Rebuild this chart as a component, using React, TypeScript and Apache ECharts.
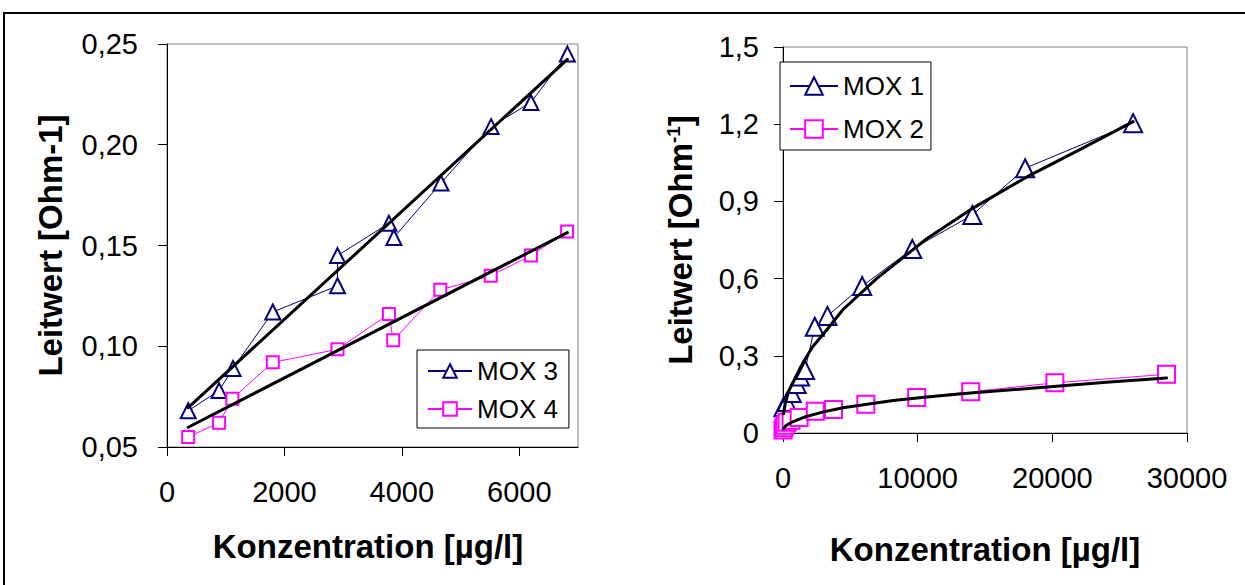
import React, { useEffect, useRef } from "react";
import * as echarts from "echarts";

// Left chart (MOX 3 / MOX 4)
const mox3X = [361, 887, 1124, 1802, 2904, 2904, 3780, 3864, 4666, 5520, 6198, 6819];
const mox3Y = [0.068, 0.078, 0.089, 0.117, 0.13, 0.145, 0.161, 0.154, 0.181, 0.209, 0.221, 0.245];
const mox4X = [361, 887, 1113, 1802, 2904, 3780, 3853, 4655, 5514, 6198, 6814];
const mox4Y = [0.055, 0.062, 0.074, 0.092, 0.0985, 0.116, 0.103, 0.128, 0.135, 0.145, 0.157];
const fitLeftX = [361, 6819];
const fit3Y = [0.0695, 0.2424];
const fit4Y = [0.0598, 0.1564];
const leftXTicks = [0, 2000, 4000, 6000];

// Right chart (MOX 1 / MOX 2)
const mox1X = [30, 280, 650, 1020, 1270, 1640, 2360, 3300, 5880, 9600, 14060, 17980, 26000];
const mox1Y = [0.1, 0.12, 0.155, 0.19, 0.22, 0.245, 0.413, 0.455, 0.571, 0.715, 0.847, 1.029, 1.204];
const mox2X = [0, 60, 150, 300, 600, 1200, 2400, 3750, 6150, 9930, 13940, 20190, 28480];
const mox2Y = [0.012, 0.02, 0.03, 0.042, 0.05, 0.06, 0.085, 0.091, 0.112, 0.138, 0.16, 0.195, 0.228];
const fit1X = [40, 150, 400, 900, 1500, 2200, 3000, 4460, 6950, 10670, 14140, 18110, 22000, 26000];
const fit1Y = [0.075, 0.11, 0.16, 0.212, 0.275, 0.335, 0.385, 0.48, 0.6, 0.755, 0.875, 0.995, 1.1, 1.21];
const fit2X = [30, 200, 650, 1600, 3000, 4460, 6500, 8190, 10670, 13900, 17000, 20070, 24000, 28480];
const fit2Y = [0.016, 0.028, 0.042, 0.062, 0.082, 0.098, 0.114, 0.126, 0.14, 0.155, 0.168, 0.181, 0.197, 0.214];

const NAVY = "#000080";
const MAGENTA = "#FF00FF";
const FONT = "'Liberation Sans', Arial, sans-serif";

const pairs = (xs: number[], ys: number[]) => xs.map((x, i) => [x, ys[i]]);

export default function App() {
  const ref = useRef<HTMLDivElement>(null);
  useEffect(() => {
    if (!ref.current) return;
    const chart = echarts.init(ref.current, null, { renderer: "svg" });
    const axisCommon = {
      axisLine: { show: true, onZero: false, lineStyle: { color: "#000", width: 1 } },
      axisTick: { show: true, inside: false, length: 9, lineStyle: { color: "#000", width: 1 } },
      splitLine: { show: false },
    };
    const labelStyle = { color: "#000", fontSize: 29, fontFamily: FONT };
    const nameStyle = { color: "#000", fontSize: 33, fontWeight: "bold" as const, fontFamily: FONT };
    const plain = (v: number) => String(v);

    const dataLine = (name: string, xs: number[], ys: number[], color: string, symbol: string, size: number, idx: number) => ({
      name,
      type: "line",
      xAxisIndex: idx,
      yAxisIndex: idx,
      data: pairs(xs, ys),
      symbol,
      symbolSize: size,
      showSymbol: true,
      color,
      lineStyle: { color, width: 1 },
      itemStyle: { color, borderColor: color, borderWidth: 1.6 },
      emphasis: { disabled: true },
      z: 2,
    });
    const fitLine = (name: string, xs: number[], ys: number[], idx: number) => ({
      name,
      type: "line",
      xAxisIndex: idx,
      yAxisIndex: idx,
      data: pairs(xs, ys),
      symbol: "none",
      smooth: false,
      lineStyle: { color: "#000", width: 3, join: "round", cap: "round" },
      color: "#000",
      emphasis: { disabled: true },
      z: 3,
    });

    chart.setOption({
      animation: false,
      backgroundColor: "#fff",
      textStyle: { fontFamily: FONT },
      graphic: [
        {
          type: "rect",
          shape: { x: 4, y: 13, width: 1400, height: 800 },
          style: { fill: "none", stroke: "#000", lineWidth: 2 },
          silent: true,
        },
      ],
      grid: [
        { left: 167, top: 44, width: 411, height: 403, show: true, borderColor: "#808080", borderWidth: 1, backgroundColor: "transparent" },
        { left: 783, top: 47, width: 404, height: 386, show: true, borderColor: "#808080", borderWidth: 1, backgroundColor: "transparent" },
      ],
      xAxis: [
        {
          type: "value",
          gridIndex: 0,
          min: 0,
          max: 7000,
          ...axisCommon,
          axisTick: { ...axisCommon.axisTick, customValues: leftXTicks },
          axisLabel: { ...labelStyle, margin: 30, customValues: leftXTicks, formatter: plain },
          name: "Konzentration [µg/l]",
          nameLocation: "middle",
          nameGap: 83,
          nameTextStyle: { ...nameStyle, padding: [0, 9, 0, 0] },
        },
        {
          type: "value",
          gridIndex: 1,
          min: 0,
          max: 30000,
          interval: 10000,
          ...axisCommon,
          axisLabel: { ...labelStyle, margin: 30, formatter: plain },
          name: "Konzentration [µg/l]",
          nameLocation: "middle",
          nameGap: 100,
          nameTextStyle: nameStyle,
        },
      ],
      yAxis: [
        {
          type: "value",
          gridIndex: 0,
          min: 0.05,
          max: 0.25,
          interval: 0.05,
          ...axisCommon,
          axisLabel: { ...labelStyle, margin: 29, formatter: (v: number) => v.toFixed(2).replace(".", ",") },
          name: "Leitwert [Ohm-1]",
          nameLocation: "middle",
          nameGap: 100,
          nameTextStyle: nameStyle,
        },
        {
          type: "value",
          gridIndex: 1,
          min: 0,
          max: 1.5,
          interval: 0.3,
          ...axisCommon,
          axisLabel: {
            ...labelStyle,
            margin: 24,
            formatter: (v: number) => (v === 0 ? "0" : v.toFixed(1).replace(".", ",")),
          },
          name: "{a|Leitwert [Ohm}{s|-1}{a|]}",
          nameLocation: "middle",
          nameGap: 86,
          nameTextStyle: {
            ...nameStyle,
            rich: {
              a: { fontSize: 33, fontWeight: "bold", fontFamily: FONT, color: "#000" },
              s: { fontSize: 19, fontWeight: "bold", fontFamily: FONT, color: "#000", verticalAlign: "top" },
            },
          },
        },
      ],
      legend: [
        {
          data: ["MOX 3", "MOX 4"],
          orient: "vertical",
          left: 417,
          top: 350,
          itemWidth: 44,
          itemHeight: 17,
          itemGap: 12,
          padding: [8, 11, 6, 10],
          backgroundColor: "#fff",
          borderColor: "#000",
          borderWidth: 1,
          selectedMode: false,
          textStyle: { color: "#000", fontSize: 26, fontFamily: FONT },
        },
        {
          data: ["MOX 1", "MOX 2"],
          orient: "vertical",
          left: 780,
          top: 62,
          itemWidth: 48,
          itemHeight: 22,
          itemGap: 17,
          padding: [11, 7, 8, 9],
          backgroundColor: "#fff",
          borderColor: "#000",
          borderWidth: 1,
          selectedMode: false,
          textStyle: { color: "#000", fontSize: 26, fontFamily: FONT },
        },
      ],
      series: [
        dataLine("MOX 3", mox3X, mox3Y, NAVY, "emptyTriangle", 15, 0),
        dataLine("MOX 4", mox4X, mox4Y, MAGENTA, "emptyRect", 12, 0),
        fitLine("fit MOX 3", fitLeftX, fit3Y, 0),
        fitLine("fit MOX 4", fitLeftX, fit4Y, 0),
        dataLine("MOX 1", mox1X, mox1Y, NAVY, "emptyTriangle", 18, 1),
        dataLine("MOX 2", mox2X, mox2Y, MAGENTA, "emptyRect", 17, 1),
        fitLine("fit MOX 1", fit1X, fit1Y, 1),
        fitLine("fit MOX 2", fit2X, fit2Y, 1),
      ],
    });
    return () => chart.dispose();
  }, []);
  return (
    <div
      ref={ref}
      style={{ position: "fixed", left: 0, top: 0, width: 1245, height: 585, background: "#fff" }}
    />
  );
}
